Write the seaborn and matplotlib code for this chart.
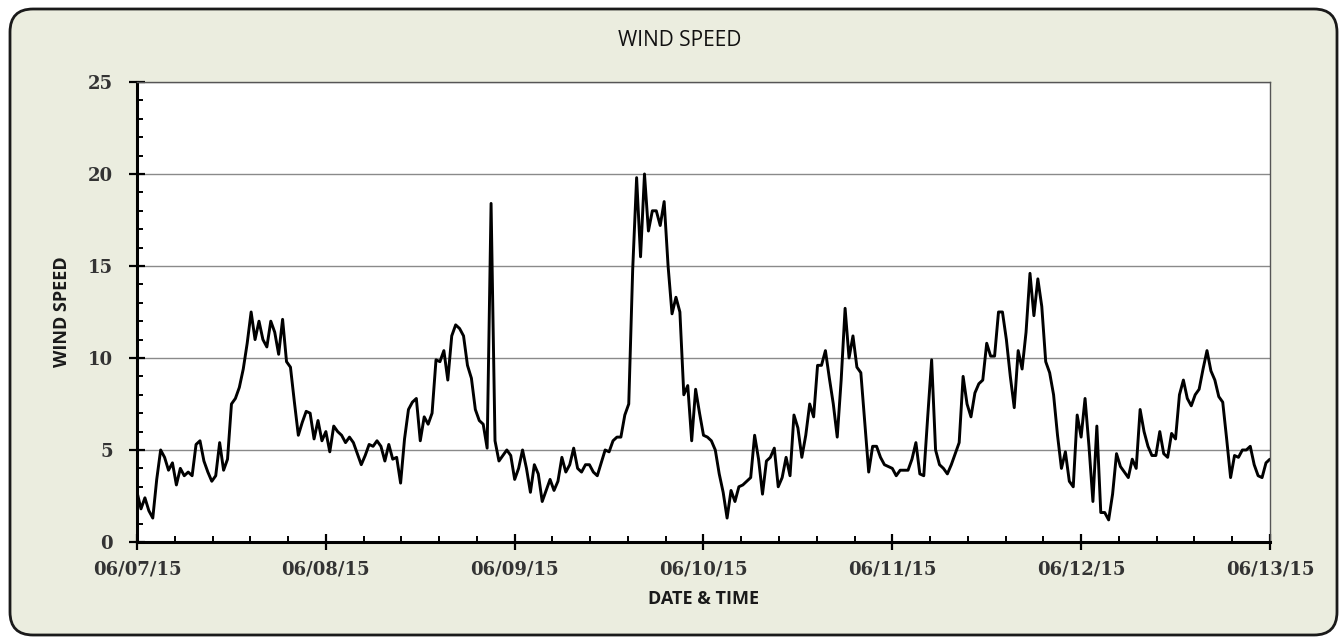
import matplotlib
matplotlib.use("Agg")
import matplotlib.pyplot as plt
import matplotlib.dates as mdates
from matplotlib.ticker import MultipleLocator, AutoMinorLocator
from matplotlib.patches import FancyBboxPatch
import seaborn as sns
import pandas as pd

"""data, half-hour readings, read off the chart"""

start = "2015-06-07 00:00"
step = "30min"

day1 = [2.7, 1.8, 2.4, 1.7, 1.3, 3.4, 5.0, 4.6, 3.9, 4.3,
        3.1, 4.0, 3.6, 3.8, 3.6, 5.3, 5.5, 4.4, 3.8, 3.3,
        3.6, 5.4, 3.9, 4.5, 7.5, 7.8, 8.4, 9.4, 10.8, 12.5,
        11.0, 12.0, 11.0, 10.6, 12.0, 11.4, 10.2, 12.1, 9.8, 9.5,
        7.6, 5.8, 6.5, 7.1, 7.0, 5.6, 6.6, 5.5]
day2 = [6.0, 4.9, 6.3, 6.0, 5.8, 5.4, 5.7, 5.4, 4.8, 4.2,
        4.7, 5.3, 5.2, 5.5, 5.2, 4.4, 5.3, 4.5, 4.6, 3.2,
        5.6, 7.2, 7.6, 7.8, 5.5, 6.8, 6.4, 7.0, 9.9, 9.8,
        10.4, 8.8, 11.2, 11.8, 11.6, 11.2, 9.6, 8.9, 7.2, 6.6,
        6.4, 5.1, 18.4, 5.5, 4.4, 4.7, 5.0, 4.7]
day3 = [3.4, 4.0, 5.0, 4.0, 2.7, 4.2, 3.7, 2.2, 2.8, 3.4,
        2.8, 3.3, 4.6, 3.8, 4.2, 5.1, 4.0, 3.8, 4.2, 4.2,
        3.8, 3.6, 4.3, 5.0, 4.9, 5.5, 5.7, 5.7, 6.9, 7.5,
        14.8, 19.8, 15.5, 20.0, 16.9, 18.0, 18.0, 17.2, 18.5, 15.0,
        12.4, 13.3, 12.5, 8.0, 8.5, 5.5, 8.3, 7.0]
day4 = [5.8, 5.7, 5.5, 5.0, 3.7, 2.7, 1.3, 2.8, 2.2, 3.0,
        3.1, 3.3, 3.5, 5.8, 4.5, 2.6, 4.4, 4.6, 5.1, 3.0,
        3.5, 4.6, 3.6, 6.9, 6.2, 4.6, 5.8, 7.5, 6.8, 9.6,
        9.6, 10.4, 8.9, 7.5, 5.7, 8.8, 12.7, 10.0, 11.2, 9.5,
        9.2, 6.5, 3.8, 5.2, 5.2, 4.6, 4.2, 4.1]
day5 = [4.0, 3.6, 3.9, 3.9, 3.9, 4.5, 5.4, 3.7, 3.6, 6.8,
        9.9, 5.0, 4.2, 4.0, 3.7, 4.2, 4.8, 5.4, 9.0, 7.5,
        6.8, 8.1, 8.6, 8.8, 10.8, 10.1, 10.1, 12.5, 12.5, 11.0,
        9.0, 7.3, 10.4, 9.4, 11.4, 14.6, 12.3, 14.3, 12.8, 9.8,
        9.2, 8.0, 5.8, 4.0, 4.9, 3.3, 3.0, 6.9]
day6 = [5.7, 7.8, 5.2, 2.2, 6.3, 1.6, 1.6, 1.2, 2.6, 4.8,
        4.1, 3.8, 3.5, 4.5, 4.0, 7.2, 6.0, 5.2, 4.7, 4.7,
        6.0, 4.8, 4.6, 5.9, 5.6, 8.0, 8.8, 7.8, 7.4, 8.0,
        8.3, 9.4, 10.4, 9.3, 8.8, 7.9, 7.6, 5.6, 3.5, 4.7,
        4.6, 5.0, 5.0, 5.2, 4.2, 3.6, 3.5, 4.3, 4.5]

speed = day1 + day2 + day3 + day4 + day5 + day6
wind = pd.DataFrame({"time": pd.date_range(start, periods=len(speed), freq=step),
                     "speed": speed})

"""figure"""

sns.set_style("white")
fig = plt.figure(figsize=(13.41, 6.38), dpi=100)
fig.patch.set_facecolor("white")

# rounded chart-area frame, kept behind the axes
r = 0.23
frame = FancyBboxPatch((0.10 + r, 0.03 + r), 13.27 - 2 * r, 6.26 - 2 * r,
                       boxstyle="round,pad=%s,rounding_size=%s" % (r, r),
                       transform=fig.dpi_scale_trans, facecolor="#EBEDDF",
                       edgecolor="#1a1a1a", linewidth=2.0, zorder=-10)
fig.patches.append(frame)

ax = fig.add_axes([0.1022, 0.1505, 0.9470 - 0.1022, 0.8715 - 0.1505])
ax.set_zorder(5)
ax.set_facecolor("white")

sns.lineplot(data=wind, x="time", y="speed", ax=ax, color="black",
             linewidth=2.1, legend=False)

ax.set_xlim(pd.Timestamp("2015-06-07"), pd.Timestamp("2015-06-13"))
ax.set_ylim(0, 25)

ax.xaxis.set_major_locator(mdates.DayLocator())
ax.xaxis.set_major_formatter(mdates.DateFormatter("%m/%d/%y"))
ax.xaxis.set_minor_locator(AutoMinorLocator(5))
ax.yaxis.set_major_locator(MultipleLocator(5))
ax.yaxis.set_minor_locator(MultipleLocator(1))

ax.grid(axis="y", which="major", color="#8a8a8a", linewidth=1.0)
ax.set_axisbelow(True)

for side in ["left", "bottom"]:
    ax.spines[side].set_color("black")
    ax.spines[side].set_linewidth(2.2)
for side in ["top", "right"]:
    ax.spines[side].set_color("#555555")
    ax.spines[side].set_linewidth(1.0)

# seaborn "white" style hides the ticks, turn them back on
ax.tick_params(which="both", bottom=True, left=True, top=False, right=False)
ax.tick_params(which="major", direction="inout", length=11, width=1.6,
               color="black", labelsize=13, labelcolor="#333333")
ax.tick_params(which="minor", direction="in", length=4.5, width=1.4, color="black")
ax.tick_params(axis="x", which="major", pad=8)
ax.tick_params(axis="y", which="major", pad=12)
for lab in ax.get_xticklabels() + ax.get_yticklabels():
    lab.set_family("DejaVu Serif")
    lab.set_fontweight("bold")

ax.set_xlabel("DATE & TIME", fontsize=13, fontweight="bold", color="#1a1a1a",
              family="Open Sans", labelpad=8)
ax.set_ylabel("WIND SPEED", fontsize=13, fontweight="bold", color="#1a1a1a",
              family="Open Sans", labelpad=12)
fig.text(0.507, 0.937, "WIND SPEED", ha="center", va="center", fontsize=15,
         family="Open Sans", color="#111111")

fig.savefig("out.png", dpi=100)
